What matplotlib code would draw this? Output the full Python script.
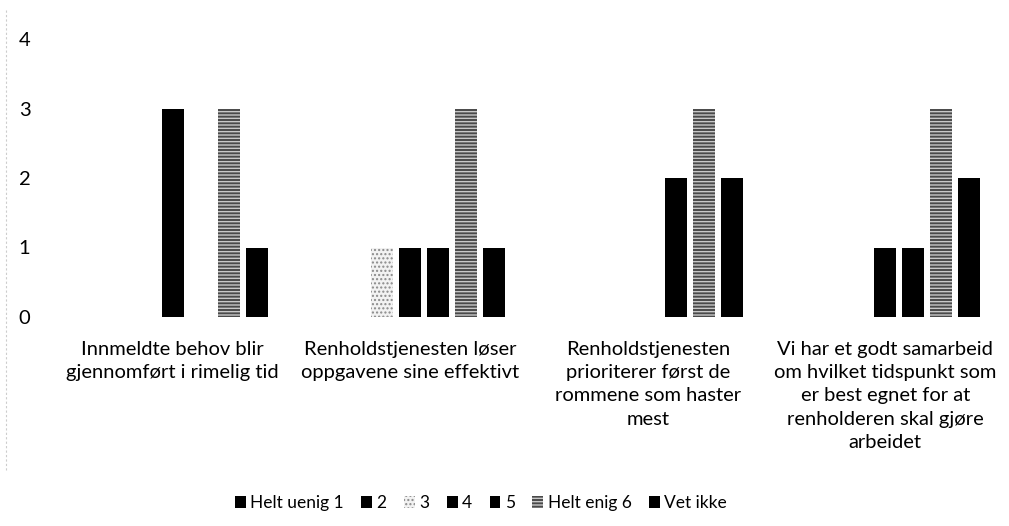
import matplotlib
matplotlib.use("Agg")
import matplotlib.pyplot as plt
import numpy as np
from matplotlib.lines import Line2D

plt.rcParams['font.family'] = ['Lato', 'DejaVu Sans']

categories = [
    "Innmeldte behov blir\ngjennomført i rimelig tid",
    "Renholdstjenesten løser\noppgavene sine effektivt",
    "Renholdstjenesten\nprioriterer først de\nrommene som haster\nmest",
    "Vi har et godt samarbeid\nom hvilket tidspunkt som\ner best egnet for at\nrenholderen skal gjøre\narbeidet",
]
series_names = ["Helt uenig 1", "2", "3", "4", "5", "Helt enig 6", "Vet ikke"]
s1 = [0, 0, 0, 0]
s2 = [0, 0, 0, 0]
s3 = [0, 1, 0, 0]
s4 = [3, 1, 0, 1]
s5 = [0, 1, 2, 1]
s6 = [3, 3, 3, 3]
s7 = [1, 1, 2, 2]
values = [s1, s2, s3, s4, s5, s6, s7]
yticks = [0, 1, 2, 3, 4]

styles = [
    dict(color='black'),
    dict(color='black'),
    dict(facecolor='#f2f2f2', edgecolor='#8a8a8a', hatch='....', linewidth=0),
    dict(color='black'),
    dict(color='black'),
    dict(facecolor='#4a4a4a', edgecolor='#c8c8c8', hatch='-----', linewidth=0),
    dict(color='black'),
]

FS = 14.5
fig = plt.figure(figsize=(10.09, 5.26), dpi=100)
ax = fig.add_axes([54/1009, 1-317/526, 950/1009, 278/526])

x = np.arange(len(categories))
slot = 28/237.5
width = 22/237.5
for j, (name, vals) in enumerate(zip(series_names, values)):
    ax.bar(x + (j-3)*slot, vals, width, label=name, **styles[j])

ax.set_xlim(-0.5, 3.5)
ax.set_ylim(0, 4)
ax.set_yticks(yticks)
ax.set_yticklabels([str(t) for t in yticks], fontsize=FS)
ax.tick_params(axis='y', length=0, pad=17)
ax.set_xticks(x)
ax.set_xticklabels(categories, fontsize=FS, linespacing=1.45)
ax.tick_params(axis='x', length=0, pad=17)
for s in ax.spines.values():
    s.set_visible(False)

leg = fig.legend(loc='center', bbox_to_anchor=(481/1009, 1-503/526), ncol=7,
                 frameon=False, fontsize=12.5, handlelength=0.63, handleheight=0.63,
                 handletextpad=0.25, columnspacing=1.0)

fig.add_artist(Line2D([6/1009, 6/1009], [1-10/526, 1-470/526], color='#aaaaaa',
                      linewidth=0.8, linestyle=(0, (2, 2)), alpha=0.6))

fig.savefig("out.png", dpi=100)
